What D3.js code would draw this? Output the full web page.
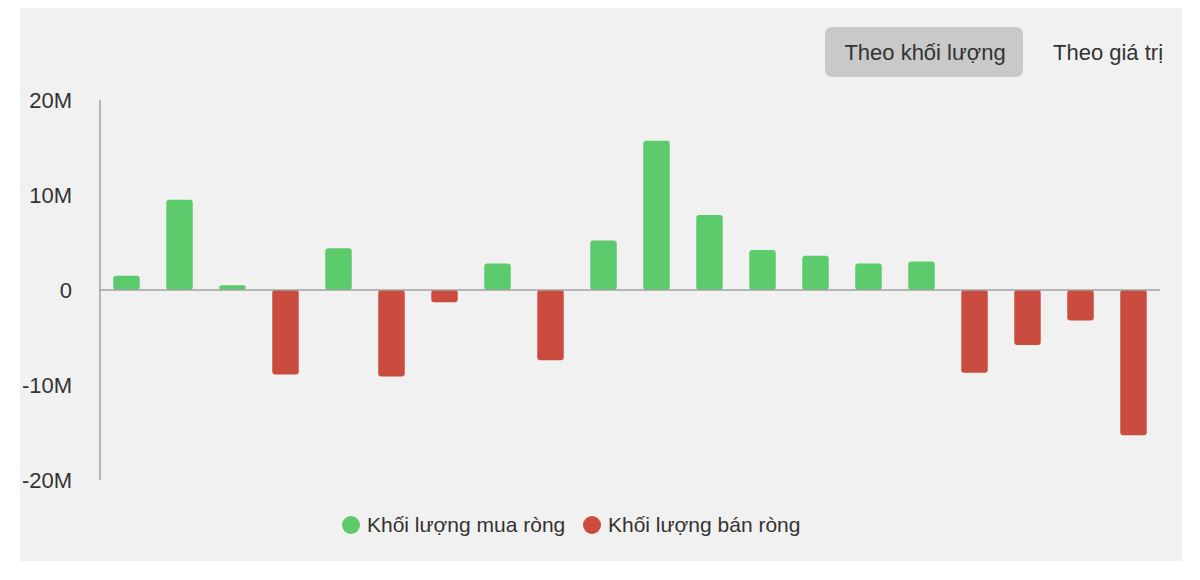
<!DOCTYPE html>
<html>
<head>
<meta charset="utf-8">
<script src="https://cdn.jsdelivr.net/npm/d3@7"></script>
<style>
  body { margin: 0; background: #fff; font-family: "Liberation Sans", Arial, sans-serif; }
  svg text { font-family: "Liberation Sans", Arial, sans-serif; }
</style>
</head>
<body>
<div id="chart"></div>
<script>
// Net volume per session (millions of shares)
const sessions = d3.range(1, 21).map(d => "S" + d);
const netVolume = [1.5, 9.5, 0.5, -8.9, 4.4, -9.1, -1.3, 2.8, -7.4, 5.2,
                   15.7, 7.9, 4.2, 3.6, 2.8, 3.0, -8.7, -5.8, -3.2, -15.3];
const yTicks = [-20, -10, 0, 10, 20];
const seriesNames = ["Khối lượng mua ròng", "Khối lượng bán ròng"];
const seriesColors = ["#5ccb6c", "#c94c3e"];
const tabLabels = ["Theo khối lượng", "Theo giá trị"];

const W = 1200, H = 580;
const margin = {left: 100, right: 40, top: 100, bottom: 100};

const svg = d3.select("#chart").append("svg")
    .attr("width", W).attr("height", H);

// panel
svg.append("rect")
    .attr("x", 20).attr("y", 8).attr("width", 1162).attr("height", 553)
    .attr("fill", "#f1f1f1");

const x = d3.scaleBand()
    .domain(sessions)
    .range([margin.left, W - margin.right])
    .paddingInner(0.5).paddingOuter(0.25);

const y = d3.scaleLinear()
    .domain([-20, 20])
    .range([H - margin.bottom, margin.top]);

// y labels
svg.append("g").selectAll("text")
    .data(yTicks)
    .enter().append("text")
    .attr("x", 72).attr("y", d => y(d))
    .attr("dy", "0.35em")
    .attr("text-anchor", "end")
    .attr("font-size", 22)
    .attr("fill", "#333")
    .text(d => d === 0 ? "0" : d + "M");

// bars
svg.append("g").selectAll("rect")
    .data(netVolume)
    .enter().append("rect")
    .attr("x", (d, i) => x(sessions[i]))
    .attr("width", x.bandwidth())
    .attr("y", d => y(Math.max(0, d)))
    .attr("height", d => Math.abs(y(d) - y(0)))
    .attr("rx", 3)
    .attr("fill", d => d >= 0 ? seriesColors[0] : seriesColors[1]);

// axis lines
svg.append("line")
    .attr("x1", margin.left).attr("x2", margin.left)
    .attr("y1", y(20)).attr("y2", y(-20))
    .attr("stroke", "#a0a0a0").attr("stroke-width", 1.5);
svg.append("line")
    .attr("x1", margin.left).attr("x2", W - margin.right)
    .attr("y1", y(0)).attr("y2", y(0))
    .attr("stroke", "#a0a0a0").attr("stroke-width", 1.5);

// tabs
svg.append("rect")
    .attr("x", 825).attr("y", 27).attr("width", 198).attr("height", 50)
    .attr("rx", 7).attr("fill", "#c9c9c9");
svg.append("g").selectAll("text")
    .data(tabLabels)
    .enter().append("text")
    .attr("x", (d, i) => i === 0 ? 925 : 1108)
    .attr("y", 52).attr("dy", "0.35em")
    .attr("text-anchor", "middle")
    .attr("font-size", 22)
    .attr("fill", "#333")
    .text(d => d);

// legend
const legend = svg.append("g").attr("transform", "translate(0,525)");
const lx = [351, 592];
seriesNames.forEach((name, i) => {
    legend.append("circle")
        .attr("cx", lx[i]).attr("cy", 0).attr("r", 9)
        .attr("fill", seriesColors[i]);
    legend.append("text")
        .attr("x", lx[i] + 16).attr("y", 0).attr("dy", "0.35em")
        .attr("font-size", 21).attr("fill", "#333")
        .text(name);
});
</script>
</body>
</html>
